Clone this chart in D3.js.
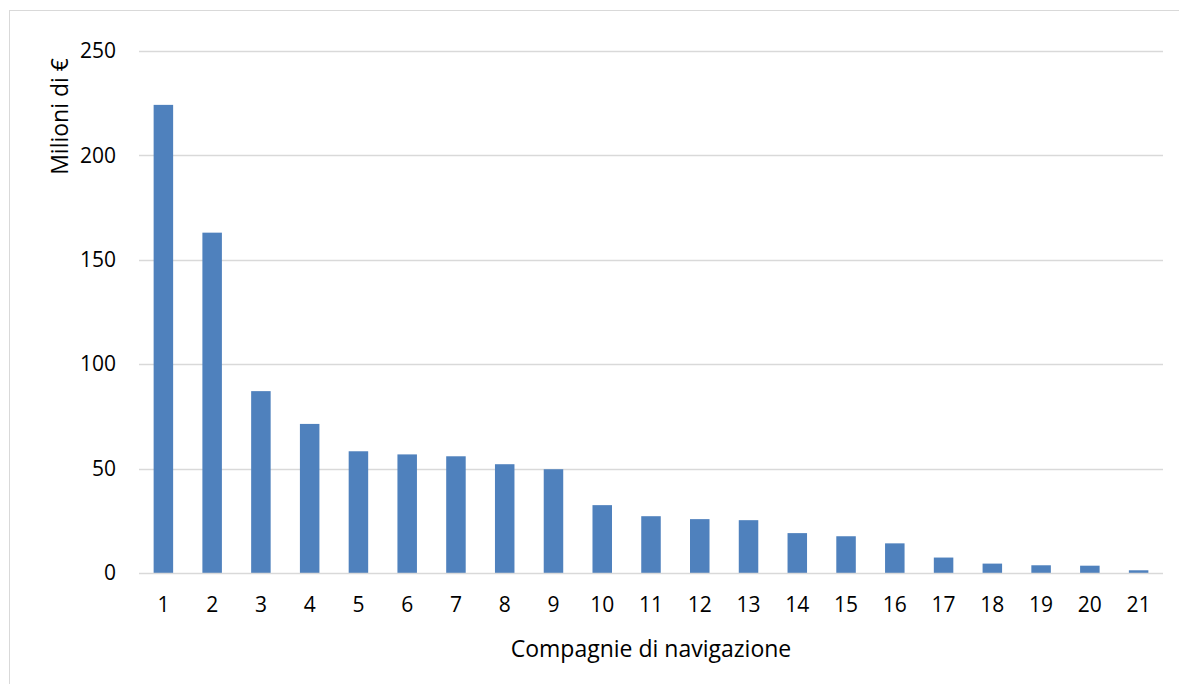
<!DOCTYPE html>
<html><head><meta charset="utf-8">
<script src="https://cdn.jsdelivr.net/npm/d3@7"></script>
<style>
html,body{margin:0;padding:0;background:#fff;}
svg{display:block;}
text{font-family:"Open Sans","Noto Sans",sans-serif;fill:#000;}
</style></head>
<body>
<svg id="chart" width="1179" height="684"></svg>
<script>
const categories = ["1","2","3","4","5","6","7","8","9","10","11","12","13","14","15","16","17","18","19","20","21"];
const values = [224.2, 163.0, 87.1, 71.4, 58.3, 56.8, 55.9, 52.1, 49.7, 32.5, 27.2, 25.8, 25.3, 19.1, 17.6, 14.2, 7.4, 4.5, 3.7, 3.5, 1.3];
const yTicks = [0, 50, 100, 150, 200, 250];
const yTitle = "Milioni di €";
const xTitle = "Compagnie di navigazione";

const svg = d3.select("#chart");
const W = 1179, H = 684;
const m = {left: 139, right: 1163, top: 51, bottom: 573};

// outer border
svg.append("rect").attr("x", 9.5).attr("y", 10.5).attr("width", W + 10).attr("height", H + 10)
  .attr("fill", "none").attr("stroke", "#d9d9d9").attr("stroke-width", 1);

const x = d3.scaleBand().domain(categories).range([m.left, m.right]).paddingInner(0.6).paddingOuter(0.3);
const y = d3.scaleLinear().domain([0, 250]).range([m.bottom, m.top]);

// gridlines
svg.append("g").selectAll("line").data(yTicks.filter(t => t > 0)).join("line")
  .attr("x1", m.left).attr("x2", m.right)
  .attr("y1", d => Math.round(y(d)) + 0.5).attr("y2", d => Math.round(y(d)) + 0.5)
  .attr("stroke", "#d9d9d9").attr("stroke-width", 1.3);

// bars
svg.append("g").selectAll("rect").data(values).join("rect")
  .attr("x", (d, i) => x(categories[i]))
  .attr("width", x.bandwidth())
  .attr("y", d => y(d))
  .attr("height", d => y(0) - y(d))
  .attr("fill", "#4f81bd");

// baseline
svg.append("line").attr("x1", m.left).attr("x2", m.right)
  .attr("y1", Math.round(y(0)) + 0.5).attr("y2", Math.round(y(0)) + 0.5)
  .attr("stroke", "#d9d9d9").attr("stroke-width", 1.3);

// y axis labels
const yAxis = d3.axisLeft(y).tickValues(yTicks).tickSize(0).tickPadding(23);
const gy = svg.append("g").attr("transform", `translate(${m.left},0)`).call(yAxis);
gy.select(".domain").remove();
gy.selectAll("text").style("font-family", '"Open Sans","Noto Sans",sans-serif').style("font-size", "21px").attr("fill", "#000");

// x axis labels
const xAxis = d3.axisBottom(x).tickSize(0).tickPadding(39);
const gx = svg.append("g").attr("transform", `translate(0,${m.bottom})`).call(xAxis);
gx.select(".domain").remove();
gx.selectAll("text").style("font-family", '"Open Sans","Noto Sans",sans-serif').style("font-size", "21px").attr("fill", "#000").attr("dy", "0");

// titles
svg.append("text").attr("x", (m.left + m.right) / 2).attr("y", 657)
  .attr("text-anchor", "middle").style("font-size", "23px").text(xTitle);
svg.append("text").attr("transform", "translate(68,58) rotate(-90)")
  .attr("text-anchor", "end").style("font-size", "23px").text(yTitle);
</script>
</body></html>
